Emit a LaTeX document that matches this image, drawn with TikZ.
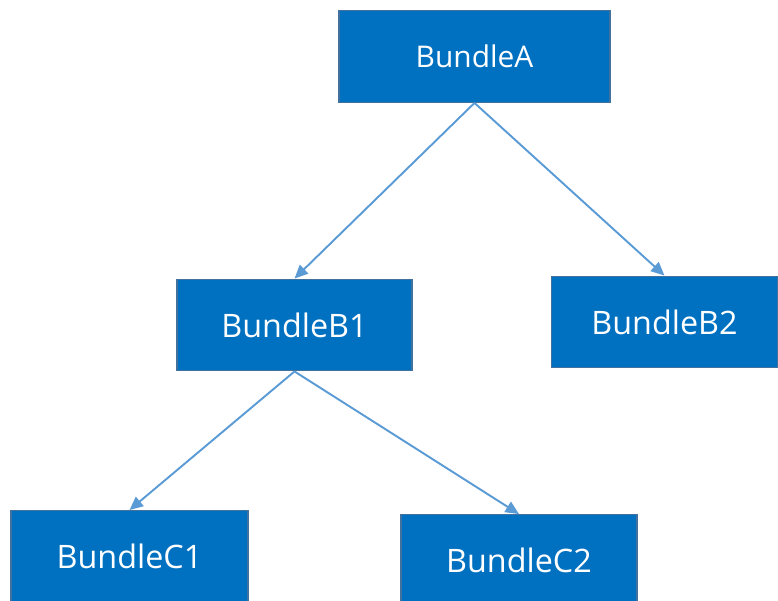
\documentclass[tikz,border=0pt]{standalone}
\usepackage{fontspec}
\setmainfont{Open Sans}
\usetikzlibrary{arrows.meta}
\definecolor{boxfill}{HTML}{0070C0}
\definecolor{boxline}{HTML}{41719C}
\definecolor{linkline}{HTML}{5B9BD5}
\tikzset{
  bundle/.style={draw=boxline, line width=0.8pt, fill=boxfill, text=white,
    font=\fontsize{18.4}{22}\selectfont, minimum width=4.7cm, minimum height=1.83cm, inner sep=0pt},
  link/.style={draw=linkline, line width=1.1pt, -{Triangle[length=0.27cm,width=0.24cm]}}
}
\begin{document}
\begin{tikzpicture}[x=0.02cm,y=-0.02cm]
    % page is 778 x 601 px, one px = 0.02cm
    \clip (0,0) rectangle (778,601);
    \node[bundle, minimum width=5.42cm, font=\fontsize{17}{20}\selectfont] (A) at (474.5,56.5) {BundleA};
    \node[bundle] (B1) at (294.5,325) {BundleB1};
    \node[bundle, minimum width=4.52cm] (B2) at (664.5,322) {BundleB2};
    \node[bundle, minimum width=4.74cm] (C1) at (129.5,556.5) {BundleC1};
    \node[bundle, minimum width=4.72cm] (C2) at (519,560.5) {BundleC2};
    \draw[link] (A.south) -- (B1.north);
    \draw[link] (A.south) -- (B2.north);
    \draw[link] (B1.south) -- (C1.north);
    \draw[link] (B1.south) -- (C2.north);
  \end{tikzpicture}
\end{document}
